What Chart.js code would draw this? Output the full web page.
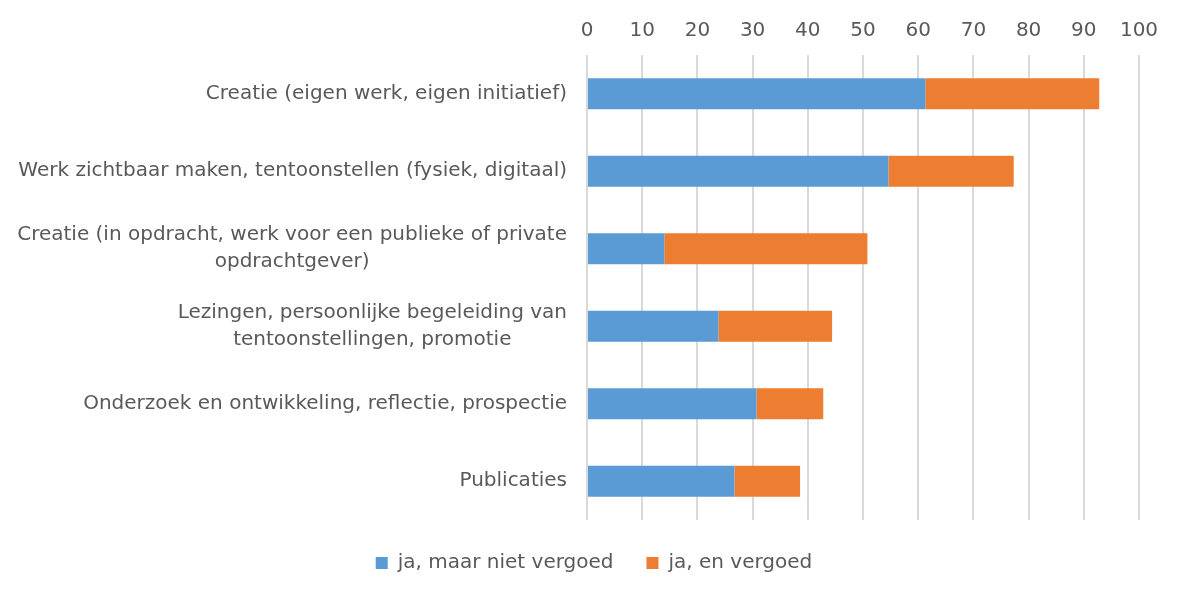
<!DOCTYPE html>
<html>
<head>
<meta charset="utf-8">
<script src="https://cdn.jsdelivr.net/npm/chart.js@4"></script>
<style>
  html, body { margin: 0; padding: 0; background: #fff; }
  #wrap { width: 1181px; height: 595px; }
</style>
</head>
<body>
<div id="wrap"><canvas id="chart"></canvas></div>
<script>
const categories = [
  'Creatie (eigen werk, eigen initiatief)',
  'Werk zichtbaar maken, tentoonstellen (fysiek, digitaal)',
  ['Creatie (in opdracht, werk voor een publieke of private', 'opdrachtgever)'],
  ['Lezingen, persoonlijke begeleiding van', 'tentoonstellingen, promotie'],
  'Onderzoek en ontwikkeling, reflectie, prospectie',
  'Publicaties'
];
const nietVergoed = [61.3, 54.6, 14.0, 23.8, 30.7, 26.7];
const welVergoed = [31.5, 22.7, 36.8, 20.6, 12.1, 11.9];
const xTicks = [0, 10, 20, 30, 40, 50, 60, 70, 80, 90, 100];

const textColor = '#595959';
const fontFamily = '"DejaVu Sans", sans-serif';
const labelSize = 20;
const labelPad = 20;

// category labels: block right-aligned, lines centred on each other
const labelPlugin = {
  id: 'centeredLabels',
  afterLayout(chart) {
    // legend sits a bit right of centre in the original
    chart.legend.left += 15;
    chart.legend.right += 15;
  },
  afterDraw(chart) {
    const scale = chart.scales.y;
    const ctx = chart.ctx;
    ctx.save();
    ctx.font = labelSize + 'px ' + fontFamily;
    ctx.fillStyle = textColor;
    ctx.textAlign = 'center';
    ctx.textBaseline = 'middle';
    const lineH = 27;
    categories.forEach((label, i) => {
      const lines = Array.isArray(label) ? label : [label];
      const w = Math.max(...lines.map(l => ctx.measureText(l).width));
      const cx = scale.right - labelPad - w / 2;
      const y = scale.getPixelForTick(i);
      lines.forEach((l, j) => {
        ctx.fillText(l, cx, y + (j - (lines.length - 1) / 2) * lineH);
      });
    });
    ctx.restore();
  }
};

new Chart(document.getElementById('chart'), {
  type: 'bar',
  data: {
    labels: categories,
    datasets: [{
      label: 'ja, maar niet vergoed',
      data: nietVergoed,
      backgroundColor: '#5b9bd5',
      categoryPercentage: 1,
      barPercentage: 0.4
    }, {
      label: 'ja, en vergoed',
      data: welVergoed,
      backgroundColor: '#ed7d31',
      categoryPercentage: 1,
      barPercentage: 0.4
    }]
  },
  options: {
    indexAxis: 'y',
    responsive: true,
    maintainAspectRatio: false,
    animation: false,
    layout: { padding: { top: 7, right: 42, bottom: 12, left: 19 } },
    scales: {
      x: {
        position: 'top',
        stacked: true,
        min: 0,
        max: 100,
        afterBuildTicks: (axis) => { axis.ticks = xTicks.map(v => ({ value: v })); },
        grid: { color: '#d9d9d9', lineWidth: 2, drawTicks: false },
        border: { display: false },
        ticks: { color: textColor, padding: 12, font: { family: fontFamily, size: 20 } }
      },
      y: {
        stacked: true,
        afterFit: (scale) => { scale.width = 568; },
        grid: { display: false },
        border: { display: false },
        ticks: {
          color: 'rgba(0,0,0,0)',
          padding: labelPad,
          font: { family: fontFamily, size: labelSize, lineHeight: 1.35 }
        }
      }
    },
    plugins: {
      legend: {
        position: 'bottom',
        labels: {
          color: textColor,
          boxWidth: 12,
          boxHeight: 12,
          padding: 33,
          font: { family: fontFamily, size: 20 }
        }
      },
      tooltip: { enabled: false }
    }
  },
  plugins: [labelPlugin]
});
</script>
</body>
</html>
